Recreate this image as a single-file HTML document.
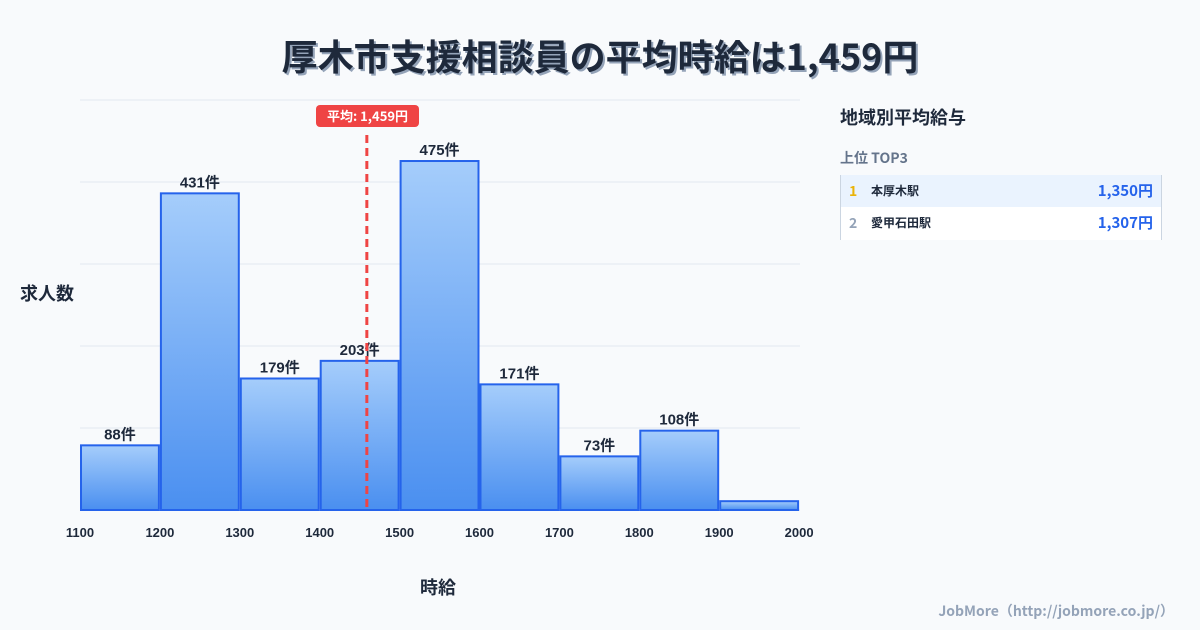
<!DOCTYPE html>
<html><head><meta charset="utf-8">
<style>
body{margin:0;width:1200px;height:630px;background:#f8fafc;font-family:"Liberation Sans","Noto Sans CJK JP",sans-serif;overflow:hidden;position:relative;color:#1e293b}
.t{position:absolute;white-space:nowrap}
</style></head><body>
<div class="t" style="left:0;width:1200px;top:29px;text-align:center;font-size:36px;font-weight:bold;font-family:'Noto Sans CJK JP',sans-serif;color:#1e293b;text-shadow:2px 2px 0 #94a3b8">厚木市支援相談員の平均時給は1,459円</div>
<svg id="chart" width="1200" height="630" style="position:absolute;left:0;top:0">
<defs><linearGradient id="g" x1="0" y1="0" x2="0" y2="1"><stop offset="0" stop-color="#a5cdfb"/><stop offset="1" stop-color="#4a8ff0"/></linearGradient></defs>
<g id="grid"></g><g id="bars"></g><g id="labels"></g><g id="xt"></g>
</svg>
<div class="t" style="left:20px;top:280px;font-size:18px;font-weight:bold;font-family:'Noto Sans CJK JP',sans-serif">求人数</div>
<div class="t" style="left:420px;top:574px;font-size:18px;font-weight:bold;font-family:'Noto Sans CJK JP',sans-serif">時給</div>
<div class="t" style="left:316px;top:105px;width:103px;height:22px;background:#ef4444;border-radius:4px;color:#fff;font-size:13px;font-weight:bold;text-align:center;line-height:22px;font-family:'Noto Sans CJK JP',sans-serif">平均: 1,459円</div>
<div class="t" style="left:840px;top:104px;font-size:18px;font-weight:bold;font-family:'Noto Sans CJK JP',sans-serif">地域別平均給与</div>
<div class="t" style="left:840px;top:148px;font-size:14px;font-weight:bold;color:#64748b;font-family:'Noto Sans CJK JP',sans-serif">上位 TOP3</div>
<div style="position:absolute;left:840px;top:175px;width:320px;height:65px;border-left:1px solid #cbd5e1;border-right:1px solid #cbd5e1;font-family:'Noto Sans CJK JP',sans-serif">
 <div style="height:32px;background:#eaf3fe;position:relative">
  <span class="t" style="left:8px;top:6px;font-size:14px;font-weight:bold;color:#eab308">1</span>
  <span class="t" style="left:30px;top:7px;font-size:12px;font-weight:bold">本厚木駅</span>
  <span class="t" style="right:8px;top:5px;font-size:15px;font-weight:bold;color:#2563eb">1,350円</span></div>
 <div style="height:33px;background:#fff;position:relative">
  <span class="t" style="left:8px;top:6px;font-size:14px;font-weight:bold;color:#94a3b8">2</span>
  <span class="t" style="left:30px;top:7px;font-size:12px;font-weight:bold">愛甲石田駅</span>
  <span class="t" style="right:8px;top:5px;font-size:15px;font-weight:bold;color:#2563eb">1,307円</span></div>
</div>
<div class="t" style="right:26px;top:601px;font-size:14px;font-weight:bold;color:#94a3b8;font-family:'Noto Sans CJK JP',sans-serif">JobMore（http://jobmore.co.jp/）</div>
<script>
const binStarts=[1100,1200,1300,1400,1500,1600,1700,1800,1900];
const counts=[88,431,179,203,475,171,73,108,12];
const showLabel=[true,true,true,true,true,true,true,true,false];
const xTicks=[1100,1200,1300,1400,1500,1600,1700,1800,1900,2000];
const average=[1459];
const NS="http://www.w3.org/2000/svg";
const X=v=>80+(v-1100)*0.799;
const Y=v=>510-v*0.7347;
function mk(t,a,p){const e=document.createElementNS(NS,t);for(const k in a)e.setAttribute(k,a[k]);p.appendChild(e);return e;}
const grid=document.getElementById('grid');
for(let i=0;i<6;i++){const l=mk('line',{x1:80,x2:800,y1:510-i*82,y2:510-i*82,stroke:'#e2e8f0','stroke-width':1},grid);

}
const bars=document.getElementById('bars'),labels=document.getElementById('labels');
binStarts.forEach((s,i)=>{
 const r=mk('rect',{x:X(s)+1,y:Y(counts[i]),width:X(s+100)-X(s)-2,height:510-Y(counts[i]),fill:'url(#g)',stroke:'#2563eb','stroke-width':2},bars);
 
 
 if(showLabel[i]){const t=mk('text',{x:(X(s)+X(s+100))/2,y:Y(counts[i])-6,'text-anchor':'middle','font-size':15,'font-weight':'bold',fill:'#1e293b','font-family':'Liberation Sans, Noto Sans CJK JP, sans-serif'},labels);t.textContent=counts[i]+'件';
 
 }
});
const xt=document.getElementById('xt');
xTicks.forEach(v=>{const t=mk('text',{x:X(v),y:537,'text-anchor':'middle','font-size':13,'font-weight':'bold',fill:'#1e293b'},xt);t.textContent=v;

});
const al=mk('line',{x1:X(average[0]),x2:X(average[0]),y1:135,y2:510,stroke:'#ef4444','stroke-width':3,'stroke-dasharray':'8,5'},document.getElementById('chart'));


</script>
</body></html>
